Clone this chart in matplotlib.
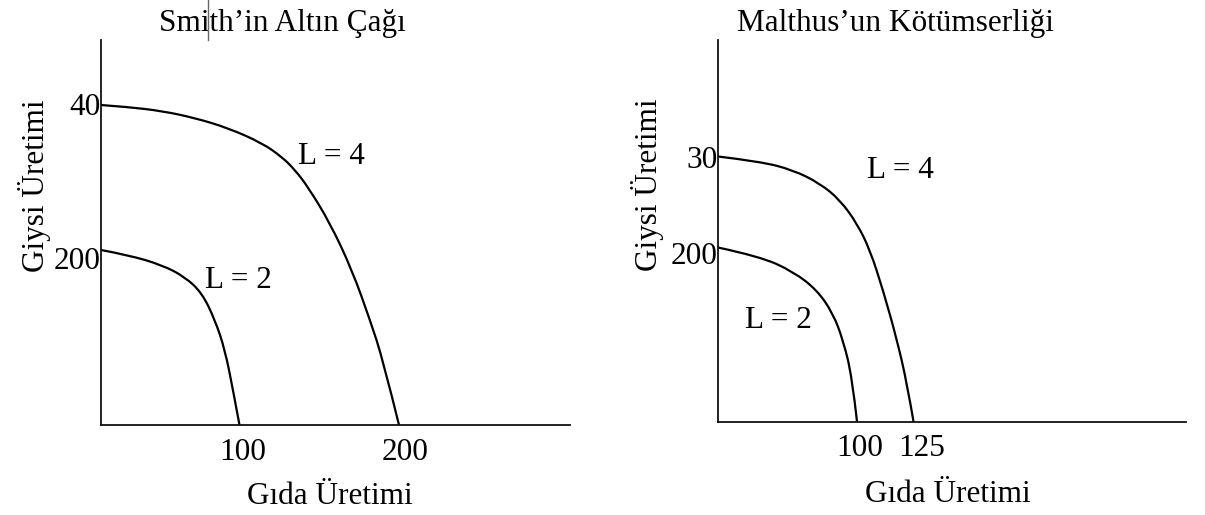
import matplotlib
matplotlib.use("Agg")
import matplotlib.pyplot as plt
from matplotlib.lines import Line2D
from matplotlib.path import Path
from matplotlib.patches import PathPatch

plt.rcParams['font.family'] = ['Liberation Serif', 'DejaVu Serif']

W, H = 1205, 515

# ---- data (units = sketch units from the origin) ----
left_title = "Smith’in Altın Çağı"
right_title = "Malthus’un Kötümserliği"
x_label = "Gıda Üretimi"
y_label = "Giysi Üretimi"

left_L4_food = [0, 27, 61, 94, 127, 161, 181, 194, 207, 229, 251, 269, 282, 298]
left_L4_cloth = [320, 318, 314, 307, 297, 282, 268, 255, 238, 202, 155, 105, 65, 0]
left_L2_food = [0, 27, 61, 84, 101, 114, 124, 132, 138.5]
left_L2_cloth = [175, 170, 160, 148, 132, 105, 75, 35, 0]

right_L4_food = [0, 42, 75, 102, 122, 139, 152, 165, 179, 189, 195.5]
right_L4_cloth = [265, 260, 251.5, 238, 221.5, 198, 171.5, 131.5, 81.5, 38, 0]
right_L2_food = [0, 42, 75, 99, 115, 125, 134, 139]
right_L2_cloth = [174, 165, 150, 131.5, 108, 81.5, 45, 0]

left_xticks = [142, 304]
left_xticklabels = ["100", "200"]
left_yticks = [321, 167]
left_yticklabels = ["40", "200"]
right_xticks = [142, 204]
right_xticklabels = ["100", "125"]
right_yticks = [264.5, 168.5]
right_yticklabels = ["30", "200"]

curve_labels = ["L = 4", "L = 2"]

FS = 22.5

fig = plt.figure(figsize=(W / 100, H / 100), dpi=100)


def make_axes(x0, x1, ytop, ybot):
    return fig.add_axes([x0 / W, (H - ybot) / H, (x1 - x0) / W, (ybot - ytop) / H])


def style(ax, xmax, ymax, xt, xtl, yt, ytl):
    ax.set_xlim(0, xmax)
    ax.set_ylim(0, ymax)
    for s in ['top', 'right']:
        ax.spines[s].set_visible(False)
    for s in ['left', 'bottom']:
        ax.spines[s].set_linewidth(1.3)
        ax.spines[s].set_color('#111111')
    ax.set_xticks(xt)
    ax.set_xticklabels(xtl, fontsize=FS)
    ax.set_yticks(yt)
    ax.set_yticklabels(ytl, fontsize=FS)
    ax.tick_params(axis='x', length=0, pad=9)
    ax.tick_params(axis='y', length=0, pad=0)
    ax.patch.set_alpha(0)


def smooth_curve(ax, xs, ys):
    """Draw a smooth curve guided by the read points (quadratic Bezier pieces)."""
    pts = list(zip(xs, ys))
    verts = [pts[0]]
    codes = [Path.MOVETO]
    for i in range(1, len(pts) - 1):
        mx = (pts[i][0] + pts[i + 1][0]) / 2
        my = (pts[i][1] + pts[i + 1][1]) / 2
        end = (mx, my) if i < len(pts) - 2 else pts[-1]
        verts += [pts[i], end]
        codes += [Path.CURVE3, Path.CURVE3]
    ax.add_patch(PathPatch(Path(verts, codes), facecolor='none', edgecolor='black',
                           lw=1.6, capstyle='round'))


# left panel
axL = make_axes(101, 570, 40, 425)
style(axL, 469, 385, left_xticks, left_xticklabels, left_yticks, left_yticklabels)
smooth_curve(axL, left_L4_food, left_L4_cloth)
smooth_curve(axL, left_L2_food, left_L2_cloth)
axL.text(230, 269, curve_labels[0], fontsize=FS, ha='center', va='center')
axL.text(137, 145, curve_labels[1], fontsize=FS, ha='center', va='center')
axL.text((282 - 101) / 469, (425 - 24) / 385, left_title, transform=axL.transAxes,
         fontsize=FS, ha='center', va='center')
axL.set_xlabel(x_label, fontsize=FS)
axL.xaxis.set_label_coords((330 - 101) / 469, (425 - 496) / 385)
axL.xaxis.label.set_va('center')
axL.set_ylabel(y_label, fontsize=FS)
axL.yaxis.set_label_coords((35 - 101) / 469, (425 - 186) / 385)
axL.yaxis.label.set_va('center')

# right panel
axR = make_axes(718, 1186, 40, 421.5)
style(axR, 468, 381.5, right_xticks, right_xticklabels, right_yticks, right_yticklabels)
smooth_curve(axR, right_L4_food, right_L4_cloth)
smooth_curve(axR, right_L2_food, right_L2_cloth)
axR.text(182, 251.5, curve_labels[0], fontsize=FS, ha='center', va='center')
axR.text(60, 101.5, curve_labels[1], fontsize=FS, ha='center', va='center')
axR.text((895 - 718) / 468, (421.5 - 24) / 381.5, right_title, transform=axR.transAxes,
         fontsize=FS, ha='center', va='center')
axR.set_xlabel(x_label, fontsize=FS)
axR.xaxis.set_label_coords((948 - 718) / 468, (421.5 - 494) / 381.5)
axR.xaxis.label.set_va('center')
axR.set_ylabel(y_label, fontsize=FS)
axR.yaxis.set_label_coords((648 - 718) / 468, (421.5 - 185) / 381.5)
axR.yaxis.label.set_va('center')

# text cursor artefact in the title
fig.add_artist(Line2D([208 / W, 208 / W], [1.0, (H - 40) / H], transform=fig.transFigure,
                      color='#666666', lw=1))

fig.savefig("out.png", dpi=100)
